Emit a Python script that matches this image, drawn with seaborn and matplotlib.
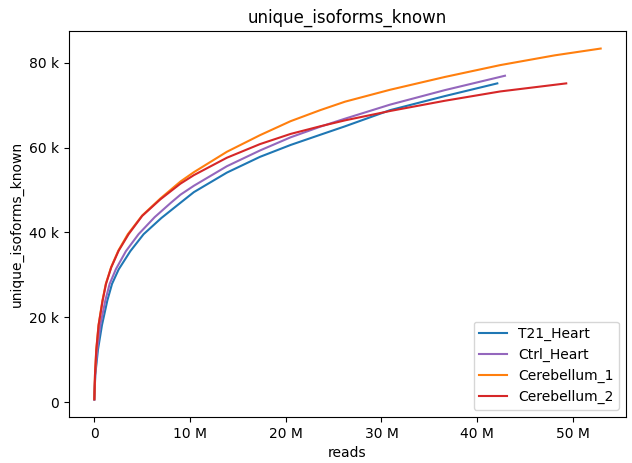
import matplotlib
matplotlib.use("Agg")
import matplotlib.pyplot as plt
from matplotlib.ticker import EngFormatter
import pandas as pd
import seaborn as sns

# reads in millions, isoforms in thousands
t21_x = [0, 0.1, 0.38, 0.8, 1.36, 1.85, 2.54, 3.76, 5.15, 7.0, 9.0, 10.4, 13.85, 17.3, 20.5, 23.6, 26.2, 30.9, 36.6, 42.1]
t21_y = [0.7, 6.5, 12.4, 18.2, 24.0, 27.9, 31.3, 35.6, 39.6, 43.4, 47.0, 49.5, 54.1, 57.8, 60.6, 63.0, 65.0, 68.8, 72.1, 75.1]

ctrl_x = [0, 0.09, 0.3, 0.63, 1.15, 1.6, 2.26, 3.3, 4.62, 6.3, 8.0, 9.0, 10.4, 13.85, 17.3, 20.5, 23.6, 26.2, 30.9, 36.6, 42.9]
ctrl_y = [0.7, 6.5, 12.4, 18.2, 24.0, 27.9, 31.4, 35.6, 39.6, 43.6, 47.0, 48.9, 51.0, 55.6, 59.3, 62.4, 64.9, 66.8, 70.1, 73.5, 76.9]

cb1_x = [0, 0.07, 0.2, 0.44, 0.85, 1.2, 1.75, 2.5, 3.5, 5.0, 6.9, 9.0, 10.4, 13.85, 17.3, 20.5, 23.6, 26.2, 30.9, 36.6, 42.4, 48.1, 52.9]
cb1_y = [0.8, 6.5, 12.4, 18.2, 24.0, 27.9, 31.8, 35.7, 39.6, 44.0, 48.0, 52.0, 54.2, 59.0, 62.9, 66.2, 68.8, 70.8, 73.6, 76.6, 79.4, 81.7, 83.3]

cb2_x = [0, 0.07, 0.21, 0.45, 0.87, 1.22, 1.77, 2.54, 3.58, 5.0, 6.9, 9.0, 10.4, 13.85, 17.3, 20.5, 23.6, 26.2, 30.9, 36.6, 42.4, 49.3]
cb2_y = [0.7, 6.5, 12.4, 18.2, 24.0, 27.9, 31.8, 35.7, 39.6, 43.9, 47.8, 51.5, 53.5, 57.6, 60.8, 63.2, 65.0, 66.4, 68.6, 71.0, 73.2, 75.1]

samples = ["T21_Heart", "Ctrl_Heart", "Cerebellum_1", "Cerebellum_2"]
colors = ["#1f77b4", "#9467bd", "#ff7f0e", "#d62728"]

frames = []
for name, xs, ys in zip(samples, [t21_x, ctrl_x, cb1_x, cb2_x], [t21_y, ctrl_y, cb1_y, cb2_y]):
    frames.append(pd.DataFrame({
        "reads": [v * 1e6 for v in xs],
        "unique_isoforms_known": [v * 1e3 for v in ys],
        "sample": name,
    }))
df = pd.concat(frames, ignore_index=True)

fig = plt.figure(figsize=(6.32, 4.63), dpi=100)
ax = fig.add_axes([69 / 632, 46 / 463, 557 / 632, 386 / 463])
sns.lineplot(data=df, x="reads", y="unique_isoforms_known", hue="sample",
             hue_order=samples, palette=dict(zip(samples, colors)),
             estimator=None, linewidth=1.5, ax=ax)
ax.xaxis.set_major_formatter(EngFormatter())
ax.yaxis.set_major_formatter(EngFormatter())
ax.set_title("unique_isoforms_known")
ax.set_xlabel("reads")
ax.set_ylabel("unique_isoforms_known")
sns.move_legend(ax, "lower right", title=None)
fig.savefig("out.png", dpi=100)
